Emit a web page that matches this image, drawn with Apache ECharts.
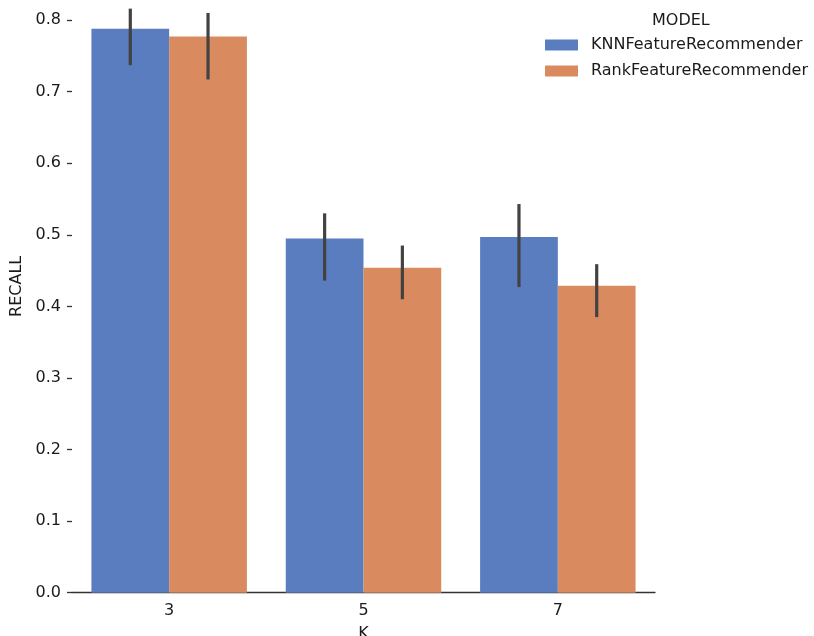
<!DOCTYPE html>
<html>
<head>
<meta charset="utf-8">
<script src="https://cdn.jsdelivr.net/npm/echarts@6/dist/echarts.min.js"></script>
<style>html,body{margin:0;padding:0;background:#fff}#c{width:814px;height:636px}</style>
</head>
<body>
<div id="c"></div>
<script>
const categories = ['3', '5', '7'];
const seriesNames = ['KNNFeatureRecommender', 'RankFeatureRecommender'];
const knnValues = [0.788, 0.495, 0.497];
const rankValues = [0.777, 0.454, 0.429];
const knnLow = [0.737, 0.436, 0.427];
const knnHigh = [0.816, 0.530, 0.543];
const rankLow = [0.717, 0.410, 0.385];
const rankHigh = [0.810, 0.485, 0.459];
const yTicks = [0, 0.1, 0.2, 0.3, 0.4, 0.5, 0.6, 0.7, 0.8];
const colors = ['#5a7dbf', '#d98b5f'];
const errColor = '#424242';
const font = 'DejaVu Sans';
const fs = 16;

function errSeries(name, lows, highs, offsetFrac) {
  return {
    type: 'custom',
    name: name + ' err',
    z: 10,
    silent: true,
    data: categories.map((c, i) => [i, lows[i], highs[i]]),
    encode: { x: 0, y: [1, 2] },
    renderItem: function (params, api) {
      const i = api.value(0);
      const lo = api.coord([i, api.value(1)]);
      const hi = api.coord([i, api.value(2)]);
      const band = api.size([1, 0])[0];
      const x = lo[0] + band * offsetFrac;
      return {
        type: 'line',
        shape: { x1: x, y1: lo[1], x2: x, y2: hi[1] },
        style: { stroke: errColor, lineWidth: 3.2 }
      };
    }
  };
}

const chart = echarts.init(document.getElementById('c'), null, { renderer: 'canvas' });
chart.setOption({
  animation: false,
  textStyle: { fontFamily: font },
  title: {
    text: 'MODEL', left: 647, top: 8,
    textStyle: { fontFamily: font, fontSize: fs, fontWeight: 'normal', color: '#1a1a1a' }
  },
  legend: {
    orient: 'vertical', left: 540, top: 32,
    itemWidth: 33, itemHeight: 11, itemGap: 10,
    icon: 'rect',
    data: seriesNames,
    textStyle: { fontFamily: font, fontSize: fs, color: '#1a1a1a', lineHeight: 14, padding: [0, 0, 0, 8] }
  },
  grid: { left: 72, right: 159, top: -20, bottom: 43.3, outerBoundsMode: 'none', containLabel: false },
  xAxis: {
    type: 'category', data: categories,
    name: 'K', nameLocation: 'middle', nameGap: 33,
    nameTextStyle: { fontFamily: font, fontSize: fs, color: '#1a1a1a' },
    axisLine: { lineStyle: { color: '#333', width: 1.3 } },
    axisTick: { alignWithLabel: true, length: 5, lineStyle: { color: '#333', width: 1.3 } },
    axisLabel: { fontFamily: font, fontSize: fs, color: '#1a1a1a', margin: 10 }
  },
  yAxis: {
    type: 'value', min: 0, max: 0.856,
    name: 'RECALL', nameLocation: 'middle', nameGap: 44, nameRotate: 90,
    nameTextStyle: { fontFamily: font, fontSize: fs, color: '#1a1a1a' },
    splitLine: { show: false },
    axisLine: { show: false },
    axisTick: { show: true, length: 5, customValues: yTicks, lineStyle: { color: '#333', width: 1.3 } },
    axisLabel: { fontFamily: font, fontSize: fs, color: '#1a1a1a', margin: 11, customValues: yTicks,
      formatter: v => v.toFixed(1) }
  },
  series: [
    { type: 'bar', name: seriesNames[0], data: knnValues, barGap: '0%', barCategoryGap: '20%',
      itemStyle: { color: colors[0] } },
    { type: 'bar', name: seriesNames[1], data: rankValues, barGap: '0%', barCategoryGap: '20%',
      itemStyle: { color: colors[1] } },
    errSeries(seriesNames[0], knnLow, knnHigh, -0.2),
    errSeries(seriesNames[1], rankLow, rankHigh, 0.2)
  ]
});
</script>
</body>
</html>
